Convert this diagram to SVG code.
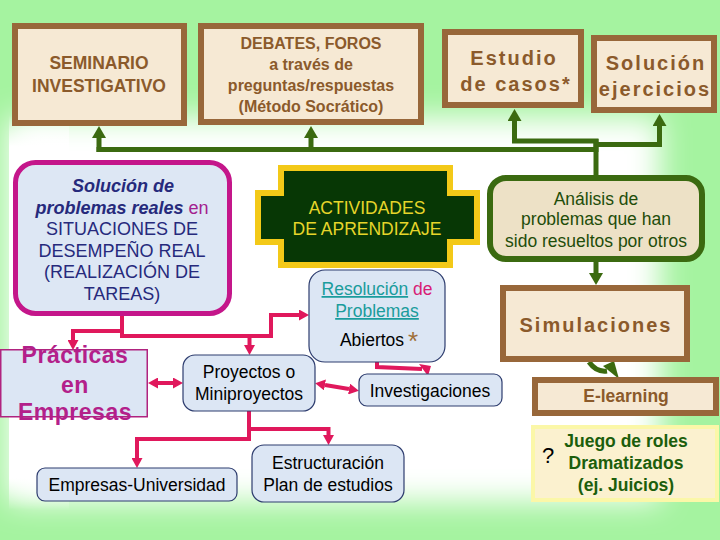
<svg xmlns="http://www.w3.org/2000/svg" width="720" height="540" viewBox="0 0 720 540">
<defs>
<filter id="soft" x="-20%" y="-20%" width="140%" height="140%"><feGaussianBlur stdDeviation="15"/></filter>
<linearGradient id="lstrip" x1="0" y1="0" x2="0" y2="1">
<stop offset="0" stop-color="#fff" stop-opacity="0"/>
<stop offset="0.08" stop-color="#fff" stop-opacity="1"/>
<stop offset="0.92" stop-color="#fff" stop-opacity="1"/>
<stop offset="1" stop-color="#fff" stop-opacity="0"/>
</linearGradient>
<marker id="ag" viewBox="0 0 12 14" refX="0" refY="7" markerWidth="12" markerHeight="14" markerUnits="userSpaceOnUse" orient="auto" preserveAspectRatio="none"><path d="M0,0 L12,7 L0,14z" fill="#3b6a10"/></marker>
<marker id="ap" viewBox="0 0 10 10" refX="0" refY="5" markerWidth="10" markerHeight="11" markerUnits="userSpaceOnUse" orient="auto-start-reverse" preserveAspectRatio="none"><path d="M0,0 L10,5 L0,10z" fill="#e0185c"/></marker>
</defs>
<style>
text{font-family:"Liberation Sans",Arial,sans-serif;text-anchor:middle}
.brown{fill:#f6e9d4;stroke:#98673a;stroke-width:6}
.bt{fill:#8b5a2b;font-weight:bold}
.big{font-size:20px;letter-spacing:2px}
.blue{fill:#dce6f4;stroke:#2d3c6e;stroke-width:1.2}
.k{fill:#000;font-size:17.5px}
.nv{fill:#262a7c;font-size:18px}
.g{fill:none;stroke:#3b6a10;stroke-width:5}
.p{fill:none;stroke:#e0185c;stroke-width:4}
.pr{font-size:23px;font-weight:bold;fill:#b3208a;letter-spacing:0.5px}
</style>
<g id="background">
<rect width="720" height="540" fill="#a5f3a0"/>
<rect x="8" y="118" width="652" height="384" fill="#fff" filter="url(#soft)"/>
<rect x="9" y="115" width="60" height="395" fill="url(#lstrip)"/>
</g>
<g id="connectors">
<path class="g" d="M96.5,149.5 H598.5"/>
<path class="g" d="M99,152 V138" marker-end="url(#ag)"/>
<path class="g" d="M311,150 V138" marker-end="url(#ag)"/>
<path class="g" d="M596,139 V177"/>
<path class="g" d="M598.5,141 H514.5 V121" marker-end="url(#ag)"/>
<path class="g" d="M593.5,144.5 H659.5 V126" marker-end="url(#ag)"/>
<path class="g" d="M596,261 V273" marker-end="url(#ag)"/>
<path class="g" d="M589,362 C594,369 600,372 607,371"/>
<polygon points="603,366 614,361 619,379" fill="#3b6a10"/>
<path class="p" d="M122,314 V336"/>
<path class="p" d="M124,331 H73 V340" marker-end="url(#ap)"/>
<path class="p" d="M120,336 H271 V315 H299" marker-end="url(#ap)"/>
<path class="p" d="M249.5,336 V345" marker-end="url(#ap)"/>
<path class="p" d="M158,383 H173" marker-start="url(#ap)" marker-end="url(#ap)"/>
<path class="p" d="M325,385 L349,389" marker-start="url(#ap)" marker-end="url(#ap)"/>
<path class="p" d="M377,361 V367 L422,369"/>
<polygon points="419,364 431,366 428,376" fill="#e0185c"/>
<path class="p" d="M249,410 V439 H137 V458" marker-end="url(#ap)"/>
<path class="p" d="M249,429 H328.5 V435" marker-end="url(#ap)"/>
</g>
<g id="seminario">
<rect class="brown" x="15" y="26" width="169" height="97"/>
<text class="bt" font-size="17.5" x="99" y="69">SEMINARIO</text>
<text class="bt" font-size="17.5" x="99" y="92">INVESTIGATIVO</text>
</g>
<g id="debates">
<rect class="brown" x="201" y="26" width="220" height="96"/>
<text class="bt" font-size="16" x="311" y="49">DEBATES, FOROS</text>
<text class="bt" font-size="16" x="311" y="70">a través de</text>
<text class="bt" font-size="16" x="311" y="91">preguntas/respuestas</text>
<text class="bt" font-size="16" x="311" y="112">(Método Socrático)</text>
</g>
<g id="estudio">
<rect class="brown" x="445" y="32" width="136" height="73"/>
<text class="bt big" x="514" y="65">Estudio</text>
<text class="bt big" x="516" y="91">de casos*</text>
</g>
<g id="solucion-ejercicios">
<rect class="brown" x="594" y="38" width="120" height="72"/>
<text class="bt big" x="656" y="70">Solución</text>
<text class="bt big" x="655" y="96">ejercicios</text>
</g>
<g id="solucion-problemas">
<rect x="15.5" y="162.5" width="214" height="151" rx="20" fill="#dde7f4" stroke="#c4168a" stroke-width="5"/>
<text class="nv" x="123" y="192" font-weight="bold" font-style="italic">Solución de</text>
<text class="nv" x="122" y="213.5"><tspan font-weight="bold" font-style="italic">problemas reales</tspan><tspan fill="#a3218e"> en</tspan></text>
<text class="nv" x="122" y="235">SITUACIONES DE</text>
<text class="nv" x="122" y="256.5">DESEMPEÑO REAL</text>
<text class="nv" x="122" y="278">(REALIZACIÓN DE</text>
<text class="nv" x="122" y="299.5">TAREAS)</text>
</g>
<g id="actividades">
<polygon points="281,168 450,168 450,193 477,193 477,242 450,242 450,265 281,265 281,242 258,242 258,193 281,193" fill="#073705" stroke="#f3c918" stroke-width="6"/>
<text x="367" y="214" font-size="17.5" fill="#e6d52a">ACTIVIDADES</text>
<text x="367" y="235" font-size="17.5" fill="#e6d52a">DE APRENDIZAJE</text>
</g>
<g id="analisis">
<rect x="490" y="178" width="212" height="81" rx="16" fill="#ede1c6" stroke="#3b6a10" stroke-width="6"/>
<text x="596" y="205" font-size="17.5" fill="#1f4d0a">Análisis de</text>
<text x="596" y="225" font-size="17.5" fill="#1f4d0a">problemas que han</text>
<text x="596" y="247" font-size="17.5" fill="#1f4d0a">sido resueltos por otros</text>
</g>
<g id="simulaciones">
<rect class="brown" x="503" y="288" width="184" height="71"/>
<text class="bt big" x="596" y="332">Simulaciones</text>
</g>
<g id="elearning">
<rect class="brown" x="535" y="380" width="181" height="33"/>
<text class="bt" font-size="17.5" x="626" y="402">E-learning</text>
</g>
<g id="juego">
<rect x="533" y="427" width="184" height="73" fill="#fbf1cf" stroke="#fbf7a8" stroke-width="4"/>
<text x="548" y="463" font-size="22" fill="#000">?</text>
<text x="626" y="447" font-size="17.5" font-weight="bold" fill="#1c5e0c">Juego de roles</text>
<text x="626" y="469" font-size="17.5" font-weight="bold" fill="#1c5e0c">Dramatizados</text>
<text x="626" y="491" font-size="17.5" font-weight="bold" fill="#1c5e0c">(ej. Juicios)</text>
</g>
<g id="practicas">
<rect x="0.75" y="349.75" width="146.5" height="67" fill="#dce6f4" stroke="#b0237f" stroke-width="1.5"/>
<text class="pr" x="75" y="363">Prácticas</text>
<text class="pr" x="75" y="393">en</text>
<text class="pr" x="75" y="420">Empresas</text>
</g>
<g id="proyectos">
<rect class="blue" x="183" y="355" width="132" height="56" rx="12"/>
<text class="k" x="249" y="378">Proyectos o</text>
<text class="k" x="249" y="400">Miniproyectos</text>
</g>
<g id="resolucion">
<rect class="blue" x="309" y="270" width="136" height="92" rx="16"/>
<text x="377" y="295" font-size="17.5"><tspan fill="#1a9c9c" text-decoration="underline">Resolución</tspan><tspan fill="#d81b74"> de</tspan></text>
<text x="377" y="317" font-size="17.5" fill="#1a9c9c" text-decoration="underline">Problemas</text>
<text class="k" x="372" y="346">Abiertos</text>
<text x="413" y="350" font-size="26" fill="#a0703a">*</text>
</g>
<g id="investigaciones">
<rect class="blue" x="359" y="374" width="143" height="32" rx="8"/>
<text class="k" x="430" y="397">Investigaciones</text>
</g>
<g id="empresas-universidad">
<rect class="blue" x="37" y="468" width="200" height="33" rx="8"/>
<text class="k" x="137" y="491">Empresas-Universidad</text>
</g>
<g id="estructuracion">
<rect class="blue" x="252" y="445" width="152" height="57" rx="12"/>
<text class="k" x="328" y="469">Estructuración</text>
<text class="k" x="328" y="491">Plan de estudios</text>
</g>
</svg>
